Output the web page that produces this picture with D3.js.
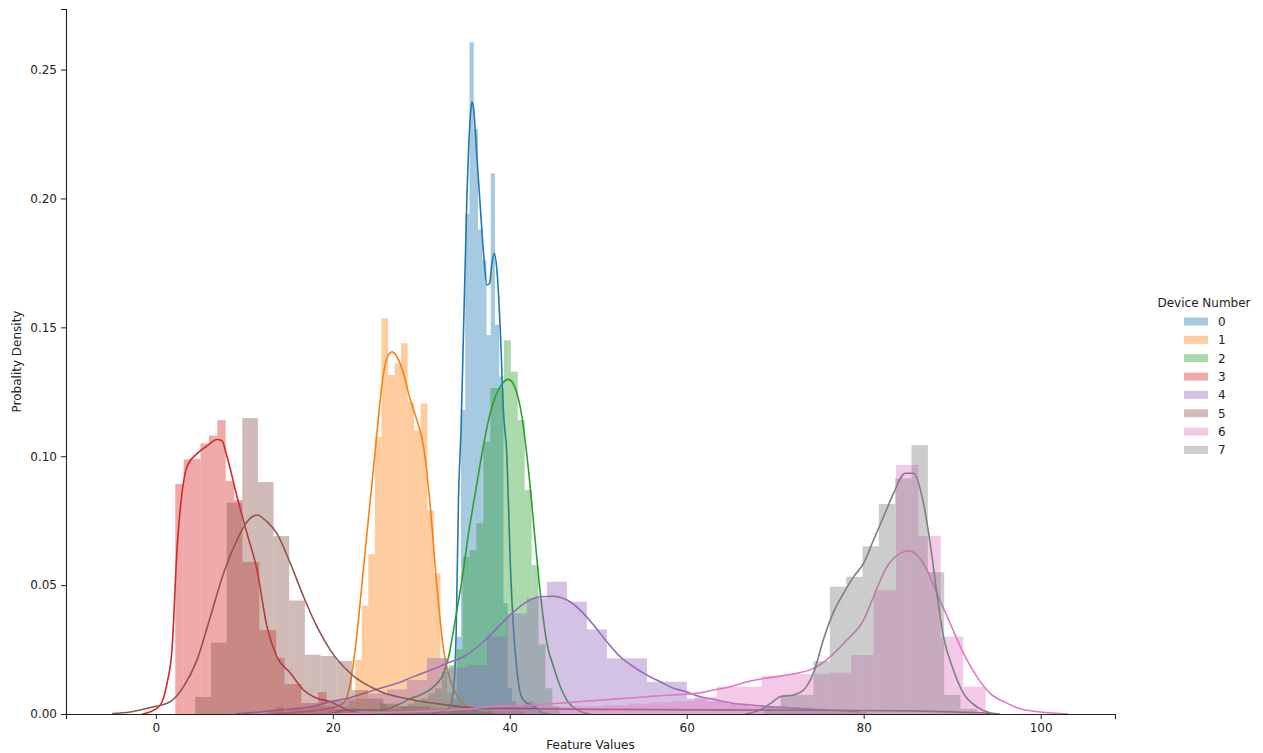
<!DOCTYPE html>
<html>
<head>
<meta charset="utf-8">
<script src="https://cdn.jsdelivr.net/npm/d3@7"></script>
<style>
  html, body { margin: 0; padding: 0; background: #fff; }
  svg { display: block; font-family: "DejaVu Sans", sans-serif; }
</style>
</head>
<body>
<svg id="chart" width="1263" height="753"></svg>
<script>
// ---- data ----
const devices = ["0", "1", "2", "3", "4", "5", "6", "7"];
const colors = ["#1f77b4", "#ff7f0e", "#2ca02c", "#d62728", "#9467bd", "#8c564b", "#e377c2", "#7f7f7f"];
const xTicks = [0, 20, 40, 60, 80, 100];
const yTicks = [0, 0.05, 0.10, 0.15, 0.20, 0.25];

// histogram bins: first edge, bin width, densities
const histStart = [33.05, 13.66, 24.53, 2.2, 12.56, 4.46, 38.11, 68.79];
const histWidth = [0.48, 0.74, 0.78, 0.95, 2.26, 1.77, 2.53, 1.846];
const hist0 = [0.001, 0.006, 0.03, 0.118, 0.194, 0.2606, 0.227, 0.188, 0.176, 0.147, 0.2097, 0.151, 0.131, 0.043, 0.01, 0.005, 0.003, 0.003, 0.004, 0.005, 0.004, 0.002];
const hist1 = [0.0028, 0, 0, 0, 0, 0, 0, 0, 0.001, 0.002, 0.003, 0.005, 0.021, 0.042, 0.062, 0.1075, 0.1535, 0.1315, 0.136, 0.1438, 0.1211, 0.110, 0.1205, 0.079, 0.0546, 0.0216, 0.008, 0.004, 0.002];
const hist2 = [0.001, 0.004, 0.002, 0.002, 0.003, 0.004, 0.005, 0.006, 0.008, 0.01, 0.0164, 0.019, 0.025, 0.061, 0.0636, 0.074, 0.1056, 0.1264, 0.1264, 0.145, 0.1328, 0.114, 0.0869, 0.0578, 0.027, 0.01, 0.003];
const hist3 = [0.0892, 0.0988, 0.099, 0.105, 0.108, 0.114, 0.0904, 0.083, 0.059, 0.059, 0.0326, 0.0326, 0.0218, 0.0116, 0.0116, 0.0043, 0.0043, 0.0085, 0.003, 0.002, 0.001];
const hist4 = [0.001, 0.002, 0.003, 0.005, 0.006, 0.008, 0.0095, 0.0132, 0.0217, 0.018, 0.019, 0.030, 0.039, 0.0449, 0.0513, 0.0436, 0.0328, 0.0216, 0.0216, 0.0125, 0.0125, 0.006, 0.005, 0.004, 0.003, 0.003, 0.002, 0.002, 0.001, 0.001];
const hist5 = [0.0066, 0.0277, 0.082, 0.1148, 0.090, 0.069, 0.044, 0.023, 0.0225, 0.0206, 0.0093, 0.006, 0.004, 0.003, 0.003, 0.002, 0.002, 0.0015, 0.001, 0.001, 0.001];
const hist6 = [0.002, 0.002, 0.003, 0.003, 0.003, 0.0035, 0.004, 0.0045, 0.005, 0.0067, 0.0106, 0.0106, 0.0147, 0.0155, 0.0155, 0.016, 0.0229, 0.048, 0.0966, 0.069, 0.03, 0.0106];
const hist7 = [0.0028, 0.0074, 0.0074, 0.0205, 0.0494, 0.0532, 0.0651, 0.0815, 0.0914, 0.1043, 0.055, 0.0074, 0.002];

// KDE curves: [feature value, density]
const kde0 = [[31.0,0],[32.15,0.0008],[33.08,0.002],[33.65,0.0093],[33.95,0.0326],[34.21,0.084],[34.49,0.110],[34.78,0.149],[35.16,0.2007],[35.54,0.2317],[35.73,0.2375],[35.91,0.235],[36.29,0.216],[36.67,0.1968],[37.04,0.1787],[37.42,0.1664],[37.72,0.167],[37.99,0.1748],[38.25,0.1787],[38.55,0.1722],[38.93,0.149],[39.3,0.1166],[39.68,0.100],[40.06,0.0585],[40.43,0.0326],[40.81,0.017],[41.19,0.008],[41.56,0.0054],[42.12,0.004],[42.69,0.003],[43.45,0.0009],[44.58,0]];
const kde1 = [[12.94,0],[16.33,0.0008],[19.72,0.0022],[21.22,0.0042],[21.98,0.0119],[22.73,0.031],[23.48,0.057],[24.24,0.083],[24.99,0.1089],[25.56,0.128],[26.12,0.138],[26.69,0.1405],[27.25,0.1386],[28.0,0.132],[28.76,0.1218],[29.51,0.114],[30.26,0.1037],[31.02,0.0804],[31.77,0.0494],[32.52,0.0248],[33.28,0.013],[34.03,0.007],[34.78,0.004],[35.54,0.0022],[36.67,0.0008],[38.4,0]];
const kde2 = [[19.72,0],[21.98,0.0016],[25.37,0.0016],[26.5,0.0023],[27.63,0.004],[28.76,0.006],[29.89,0.0074],[31.39,0.0106],[32.52,0.0158],[33.08,0.022],[33.84,0.0365],[34.6,0.052],[35.34,0.070],[36.1,0.0856],[36.86,0.101],[37.6,0.114],[38.36,0.123],[39.12,0.128],[39.86,0.1298],[40.62,0.1264],[41.38,0.1153],[42.12,0.0946],[42.88,0.067],[43.45,0.047],[44.2,0.0274],[44.95,0.0183],[45.71,0.0106],[46.46,0.0054],[47.6,0.0016],[49.1,0]];
const kde3 = [[-1.53,0],[-0.62,0.0009],[0.51,0.0035],[1.27,0.012],[1.83,0.025],[2.4,0.064],[2.96,0.0857],[3.53,0.096],[4.66,0.101],[5.79,0.104],[6.92,0.1065],[7.48,0.106],[8.05,0.0998],[9.18,0.0843],[10.31,0.070],[11.44,0.0559],[12.56,0.0339],[13.69,0.0222],[15.2,0.0159],[16.7,0.0093],[18.21,0.0061],[19.72,0.0048],[21.22,0.0022],[21.98,0.0012],[23.1,0.0004]];
const kde4 = [[8.98,0],[11.81,0.0008],[14.07,0.0016],[17.83,0.003],[19.72,0.0048],[21.6,0.006],[23.48,0.008],[25.37,0.010],[27.25,0.0119],[29.13,0.0145],[31.02,0.017],[32.9,0.0197],[34.78,0.0222],[37.23,0.0287],[38.73,0.0339],[40.25,0.039],[41.94,0.0436],[43.45,0.0455],[44.95,0.0457],[46.46,0.0442],[47.97,0.0403],[49.47,0.0345],[50.98,0.028],[52.49,0.0222],[53.99,0.0183],[55.5,0.0151],[57.01,0.0125],[58.51,0.010],[60.02,0.0085],[61.53,0.0067],[63.41,0.0054],[65.29,0.0041],[67.18,0.0035],[70.56,0.0026],[74.33,0.0018],[78.1,0.0012],[79.6,0.0008]];
const kde5 = [[-4.92,0.0002],[-2.88,0.0008],[-0.62,0.0025],[1.64,0.0048],[3.14,0.0106],[4.66,0.021],[6.16,0.0377],[7.66,0.0546],[9.18,0.0675],[10.31,0.0746],[11.44,0.0772],[12.56,0.0746],[13.69,0.070],[15.2,0.0585],[16.7,0.0455],[18.21,0.0339],[19.72,0.0248],[21.98,0.0158],[25.37,0.0087],[29.13,0.0054],[32.9,0.0035],[36.67,0.0022],[50.2,0.0018],[70.0,0.0015],[85.0,0.0012],[94.3,0.0003]];
const kde6 = [[19.72,0],[27.63,0.0008],[33.28,0.0015],[38.93,0.003],[42.69,0.0035],[46.46,0.0044],[50.23,0.0054],[53.99,0.0063],[57.76,0.0073],[61.15,0.008],[63.03,0.0093],[64.92,0.0106],[66.8,0.0125],[68.68,0.0138],[70.56,0.0147],[72.45,0.0158],[74.33,0.0177],[76.21,0.0222],[78.1,0.0287],[79.98,0.0364],[81.11,0.0455],[82.62,0.0571],[84.12,0.0623],[85.06,0.0633],[86.01,0.0617],[87.14,0.0559],[88.27,0.0468],[89.77,0.0352],[91.28,0.0235],[92.79,0.0145],[94.29,0.008],[95.99,0.0045],[97.68,0.002],[99.94,0.0008],[103.1,0]];
const kde7 = [[66.61,0],[68.31,0.0016],[69.44,0.004],[70.56,0.0067],[72.07,0.0074],[73.2,0.0093],[74.33,0.016],[75.46,0.029],[76.59,0.0395],[77.72,0.0468],[78.85,0.0532],[79.98,0.0584],[81.11,0.0675],[82.24,0.0765],[83.37,0.0856],[84.69,0.0934],[85.63,0.0934],[86.76,0.0817],[87.51,0.0662],[88.27,0.0468],[89.02,0.030],[90.15,0.017],[91.28,0.008],[92.79,0.0028],[94.29,0.0005],[95.4,0]];

const hists = [hist0, hist1, hist2, hist3, hist4, hist5, hist6, hist7];
const kdes = [kde0, kde1, kde2, kde3, kde4, kde5, kde6, kde7];

// ---- chart ----
const svg = d3.select("#chart");
const L = 66, R = 1115, T = 9, B = 714;
const x = d3.scaleLinear().domain([-10.15, 108.4]).range([L, R]);
const y = d3.scaleLinear().domain([0, 0.2735]).range([B, T]);

const plot = svg.append("g");
const line = d3.line().x(d => x(d[0])).y(d => y(d[1])).curve(d3.curveMonotoneX);

devices.forEach((dev, s) => {
  const bins = hists[s].map((v, i) => ({
    x0: histStart[s] + i * histWidth[s],
    x1: histStart[s] + (i + 1) * histWidth[s],
    v
  })).filter(b => b.v > 0);
  plot.append("g").selectAll("rect").data(bins).join("rect")
    .attr("x", d => x(d.x0))
    .attr("width", d => x(d.x1) - x(d.x0))
    .attr("y", d => y(d.v))
    .attr("height", d => y(0) - y(d.v))
    .attr("fill", colors[s])
    .attr("fill-opacity", 0.4);
  plot.append("path").datum(kdes[s])
    .attr("d", line)
    .attr("fill", "none")
    .attr("stroke", colors[s])
    .attr("stroke-width", 1.6);
});

// axes
const xAxis = svg.append("g").attr("transform", `translate(0,${B})`)
  .call(d3.axisBottom(x).tickValues(xTicks).tickFormat(d3.format("d")).tickSizeOuter(0).tickSize(5).tickPadding(4));
const yAxis = svg.append("g").attr("transform", `translate(${L},0)`)
  .call(d3.axisLeft(y).tickValues(yTicks).tickFormat(d3.format(".2f")).tickSizeOuter(0).tickSize(5).tickPadding(4));
[xAxis, yAxis].forEach(a => {
  a.selectAll("text").attr("font-size", 12).attr("fill", "#222").attr("font-family", "DejaVu Sans, sans-serif");
  a.selectAll("line").attr("stroke", "#222");
  a.select(".domain").attr("stroke", "#222").attr("stroke-width", 1.1);
});

svg.append("text").attr("x", (L + R) / 2).attr("y", 749)
  .attr("text-anchor", "middle").attr("font-size", 12).attr("fill", "#222")
  .text("Feature Values");
svg.append("text").attr("transform", `translate(21,${(T + B) / 2}) rotate(-90)`)
  .attr("text-anchor", "middle").attr("font-size", 12).attr("fill", "#222")
  .text("Probality Density");

// legend
const lg = svg.append("g");
lg.append("text").attr("x", 1204).attr("y", 307).attr("text-anchor", "middle")
  .attr("font-size", 12).attr("fill", "#222").text("Device Number");
devices.forEach((dev, s) => {
  const cy = 321.5 + s * 18.35;
  lg.append("rect").attr("x", 1184).attr("y", cy - 4).attr("width", 24).attr("height", 8)
    .attr("fill", colors[s]).attr("fill-opacity", 0.4);
  lg.append("text").attr("x", 1218).attr("y", cy + 4.5).attr("font-size", 12)
    .attr("fill", "#222").text(dev);
});
</script>
</body>
</html>
